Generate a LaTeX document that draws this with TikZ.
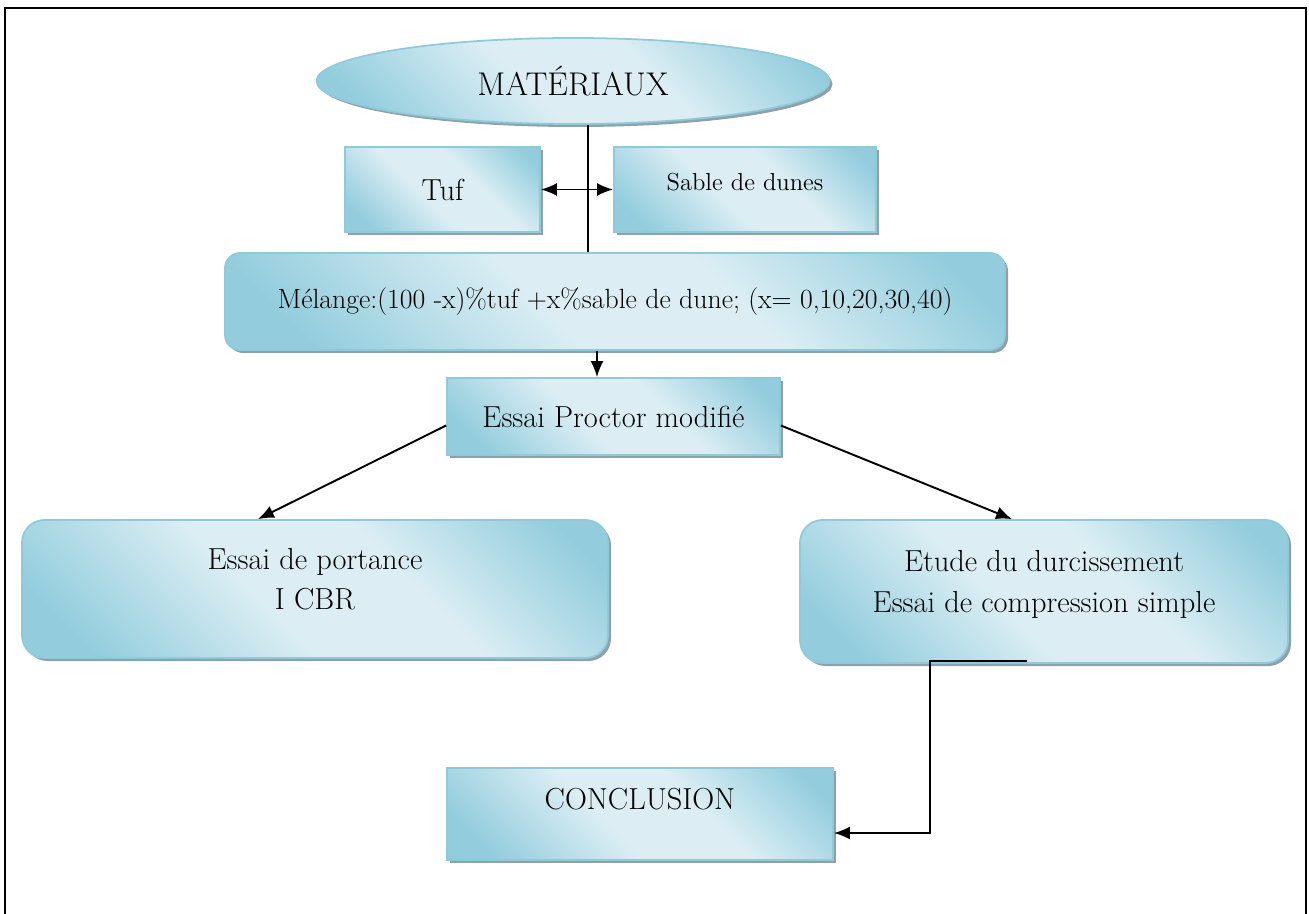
\documentclass[tikz,border=0pt]{standalone}
\usepackage{xcolor}
\usepackage{tikz}
\usetikzlibrary{positioning,shapes.geometric,shadows,arrows.meta}
\usepackage{amsmath}
\definecolor{AquaDark}{HTML}{93CDDD}
\definecolor{AquaLight}{HTML}{DCEEF4}
\definecolor{AquaEdge}{HTML}{8FCADB}
\definecolor{ShadowGrey}{HTML}{8EA1AA}
\pgfdeclareverticalshading{aquaband}{100bp}{color(0bp)=(AquaDark); color(22bp)=(AquaDark);
  color(44bp)=(AquaLight); color(60bp)=(AquaLight); color(80bp)=(AquaDark); color(100bp)=(AquaDark)}

\begin{document}
\begin{tikzpicture}[
      every node/.style={align=center},
      box/.style={draw=AquaEdge, line width=1pt, shading=aquaband, shading angle=-45,
        drop shadow={shadow xshift=0.6mm, shadow yshift=-0.6mm, fill=ShadowGrey, opacity=1},
        font=\fontsize{17.3}{23}\selectfont},
      roundbox/.style={box, rounded corners=0.45cm},
      material/.style={box, ellipse, font=\fontsize{18.7}{22}\selectfont},
      arrow/.style={line width=1.1pt, ->, >={Latex[length=3.2mm, width=2.6mm]}}
    ]
      \useasboundingbox (0,0) rectangle (26.18,-18.28);
      % frame round the page
      \draw[line width=1.3pt] (0.1,-18.4) -- (0.1,-0.16) -- (26.12,-0.16) -- (26.12,-18.4);

      \node[material, minimum width=10.26cm, minimum height=1.72cm] (mat) at (11.46,-1.62) {MATÉRIAUX};
      \node[box, minimum width=3.9cm, minimum height=1.7cm] (tuf) at (8.85,-3.79) {Tuf};
      \node[box, minimum width=5.24cm, minimum height=1.7cm, text depth=0.3cm, font=\fontsize{14}{17}\selectfont] (sable) at (14.9,-3.79) {Sable de dunes};
      \node[roundbox, rounded corners=0.3cm, minimum width=15.6cm, minimum height=1.94cm, font=\fontsize{15.8}{19}\selectfont] (mel) at (12.3,-6.03)
        {Mélange:(100 -x)\%tuf +x\%sable de dune; (x= 0,10,20,30,40)};
      \node[box, minimum width=6.66cm, minimum height=1.54cm] (proctor) at (12.27,-8.33) {Essai Proctor modifié};
      \node[roundbox, minimum width=11.72cm, minimum height=2.76cm, text depth=0.4cm] (cbr) at (6.3,-11.78) {Essai de portance\\I CBR};
      \node[roundbox, minimum width=9.76cm, minimum height=2.86cm, text depth=0.4cm] (durc) at (20.88,-11.83)
        {Etude du durcissement\\Essai de compression simple};
      \node[box, minimum width=7.72cm, minimum height=1.84cm, text depth=0.6cm] (concl) at (12.8,-16.28) {CONCLUSION};

      \draw[line width=1.1pt] ([xshift=3mm]mat.south) -- ([xshift=3mm]mat.south |- mel.north);
      \draw[arrow, <->] (tuf) -- (sable);
      \draw[arrow] ([xshift=-3.6mm]mel.south) -- ([xshift=-3.6mm]mel.south |- proctor.north);
      \draw[arrow] ([yshift=-1.8mm]proctor.west) -- ([xshift=-11.4mm]cbr.north);
      \draw[arrow] ([yshift=-1.8mm]proctor.east) -- ([xshift=-6.4mm]durc.north);
      \draw[arrow] ([xshift=-3.4mm, yshift=0.06cm]durc.south) -- ++(-1.94,0) |- ([yshift=-3.8mm]concl.east);

    \end{tikzpicture}
\end{document}
